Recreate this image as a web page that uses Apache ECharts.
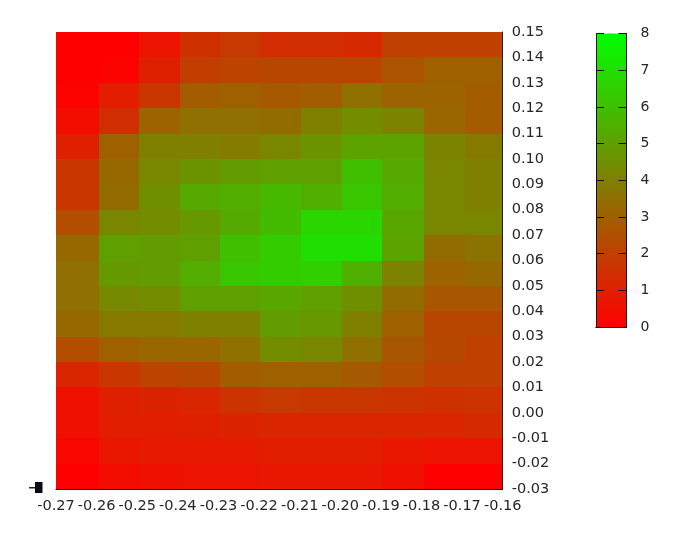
<!DOCTYPE html>
<html>
<head>
<meta charset="utf-8">
<style>html,body{margin:0;padding:0;background:#fff}#c{width:683px;height:536px}</style>
<script src="https://cdn.jsdelivr.net/npm/echarts@6/dist/echarts.min.js"></script>
</head>
<body>
<div id="c"></div>
<script>
// Cell edges along x (data units)
var xEdges = [-0.27,-0.2594,-0.2495,-0.2394,-0.2295,-0.2197,-0.2097,-0.1996,-0.1897,-0.1795,-0.1694,-0.16];
// Cell edges along y, from top to bottom
var yEdges = [0.15,0.14,0.13,0.12,0.11,0.10,0.09,0.08,0.07,0.06,0.05,0.04,0.03,0.02,0.01,0.00,-0.01,-0.02,-0.03];
var colorTicks = [0,1,2,3,4,5,6,7,8];
// Cell values, rows from top to bottom
var row00 = [0.0,0.0,0.6,1.5,1.8,1.4,1.4,1.3,2.0,2.0,2.0];
var row01 = [0.0,0.1,1.0,1.9,2.1,2.2,2.2,2.2,2.6,3.0,3.0];
var row02 = [0.1,0.9,1.7,2.9,3.0,2.8,2.9,3.5,3.1,3.1,2.9];
var row03 = [0.4,1.4,3.1,3.5,3.5,3.4,4.0,4.4,4.1,3.2,2.9];
var row04 = [1.0,3.0,4.0,4.0,3.9,4.2,4.6,5.1,5.1,4.1,3.8];
var row05 = [1.7,3.3,4.2,4.6,4.9,5.0,5.0,6.0,5.3,4.2,4.0];
var row06 = [1.7,3.4,4.5,5.3,5.4,5.8,5.5,6.2,5.4,4.2,4.0];
var row07 = [2.4,4.2,4.4,4.8,5.3,5.9,6.7,6.7,5.2,4.2,4.2];
var row08 = [3.3,5.0,4.9,5.0,6.0,6.4,7.0,7.0,5.1,3.4,3.6];
var row09 = [3.5,4.8,4.9,5.4,6.2,6.4,6.5,5.5,4.1,3.1,3.3];
var row10 = [3.5,4.3,4.4,5.0,5.0,5.2,5.0,4.5,3.4,2.7,2.7];
var row11 = [3.3,3.8,3.8,4.0,4.0,4.9,4.8,4.0,3.0,2.2,2.2];
var row12 = [2.4,3.0,3.2,3.2,3.5,4.4,4.2,3.5,2.7,2.3,2.0];
var row13 = [1.2,1.7,2.1,2.2,2.9,3.0,3.0,2.8,2.4,2.0,2.0];
var row14 = [0.5,1.0,1.1,1.2,1.6,1.8,1.7,1.7,1.6,1.5,1.6];
var row15 = [0.5,0.9,0.9,1.0,1.1,1.2,1.2,1.2,1.2,1.2,1.3];
var row16 = [0.2,0.7,0.8,0.8,0.8,0.9,0.9,0.9,0.7,0.6,0.6];
var row17 = [0.0,0.4,0.5,0.6,0.6,0.7,0.7,0.7,0.5,0.0,0.0];
var rows = [row00,row01,row02,row03,row04,row05,row06,row07,row08,row09,row10,row11,row12,row13,row14,row15,row16,row17];

var cells = [];
rows.forEach(function (r, j) {
  r.forEach(function (v, i) {
    cells.push([xEdges[i], xEdges[i + 1], yEdges[j], yEdges[j + 1], v]);
  });
});

var font = 'DejaVu Sans';
var textColor = '#262626';
var lowColor = '#ff0000', highColor = '#00ff00';

var chart = echarts.init(document.getElementById('c'), null, {renderer: 'canvas'});
chart.setOption({
  animation: false,
  backgroundColor: '#fff',
  grid: [
    {left: 56, top: 32, width: 446.7, height: 457},
    {left: 596, top: 33.5, width: 30.5, height: 293.5}
  ],
  xAxis: [
    {type: 'value', gridIndex: 0, min: -0.27, max: -0.16, interval: 0.01, position: 'bottom', z: 3,
     splitLine: {show: false}, axisTick: {show: false},
     axisLine: {show: true, onZero: false, lineStyle: {color: '#111', width: 1}},
     axisLabel: {show: true, color: textColor, fontFamily: font, fontSize: 14.5, margin: 10, showMinLabel: true, showMaxLabel: true,
       hideOverlap: false, formatter: function (v) { return v.toFixed(2); }}},
    {type: 'category', gridIndex: 1, data: ['scale'], position: 'bottom', z: 3,
     axisTick: {show: false}, axisLabel: {show: false},
     axisLine: {show: true, lineStyle: {color: '#111', width: 1}}},
    {type: 'category', gridIndex: 1, data: ['scale'], position: 'top', z: 3,
     axisTick: {show: false}, axisLabel: {show: false},
     axisLine: {show: true, lineStyle: {color: '#111', width: 1}}}
  ],
  yAxis: [
    {type: 'value', gridIndex: 0, min: -0.03, max: 0.15, interval: 0.01, position: 'right', z: 3,
     splitLine: {show: false}, axisTick: {show: false},
     axisLine: {show: true, onZero: false, lineStyle: {color: '#222', width: 1}},
     axisLabel: {show: true, color: textColor, fontFamily: font, fontSize: 14.5, margin: 9, padding: [2, 0, 0, 0], showMinLabel: true, showMaxLabel: true,
       hideOverlap: false, formatter: function (v) { return v.toFixed(2); }}},
    {type: 'value', gridIndex: 1, min: colorTicks[0], max: colorTicks[8], interval: 1, position: 'right', z: 3,
     splitLine: {show: false},
     axisTick: {show: true, inside: true, length: 8, lineStyle: {color: '#111', width: 1}},
     axisLine: {show: true, onZero: false, lineStyle: {color: '#111', width: 1}},
     axisLabel: {show: true, color: textColor, fontFamily: font, fontSize: 14, margin: 14, padding: [2, 0, 0, 0]}},
    {type: 'value', gridIndex: 1, min: colorTicks[0], max: colorTicks[8], interval: 1, position: 'left', z: 3,
     splitLine: {show: false},
     axisTick: {show: true, inside: true, length: 8, lineStyle: {color: '#111', width: 1}},
     axisLine: {show: true, onZero: false, lineStyle: {color: '#111', width: 1}},
     axisLabel: {show: false}}
  ],
  visualMap: {show: false, seriesIndex: 0, dimension: 4, min: colorTicks[0], max: colorTicks[8],
    inRange: {color: [lowColor, highColor]}},
  series: [
    {type: 'custom', xAxisIndex: 0, yAxisIndex: 0, data: cells, clip: true, z: 1,
     encode: {x: [0, 1], y: [2, 3]},
     renderItem: function (params, api) {
       var a = api.coord([api.value(0), api.value(2)]);
       var b = api.coord([api.value(1), api.value(3)]);
       var x0 = Math.round(a[0]), x1 = Math.round(b[0]);
       var y0 = Math.round(a[1]), y1 = Math.round(b[1]);
       return {type: 'rect',
         shape: {x: x0, y: y0, width: x1 - x0, height: y1 - y0},
         style: {fill: api.visual('color'), stroke: null}};
     }},
    {type: 'bar', xAxisIndex: 1, yAxisIndex: 1, data: [colorTicks[8]], barWidth: '100%', z: 1,
     itemStyle: {color: {type: 'linear', x: 0, y: 0, x2: 0, y2: 1,
       colorStops: [{offset: 0, color: highColor}, {offset: 1, color: lowColor}]}}}
  ],
  graphic: [
    {type: 'rect', shape: {x: 35, y: 482, width: 7.5, height: 11}, style: {fill: '#0a0a14'}},
    {type: 'rect', shape: {x: 29, y: 487, width: 6, height: 1.5}, style: {fill: '#222'}}
  ]
});
</script>
</body>
</html>
